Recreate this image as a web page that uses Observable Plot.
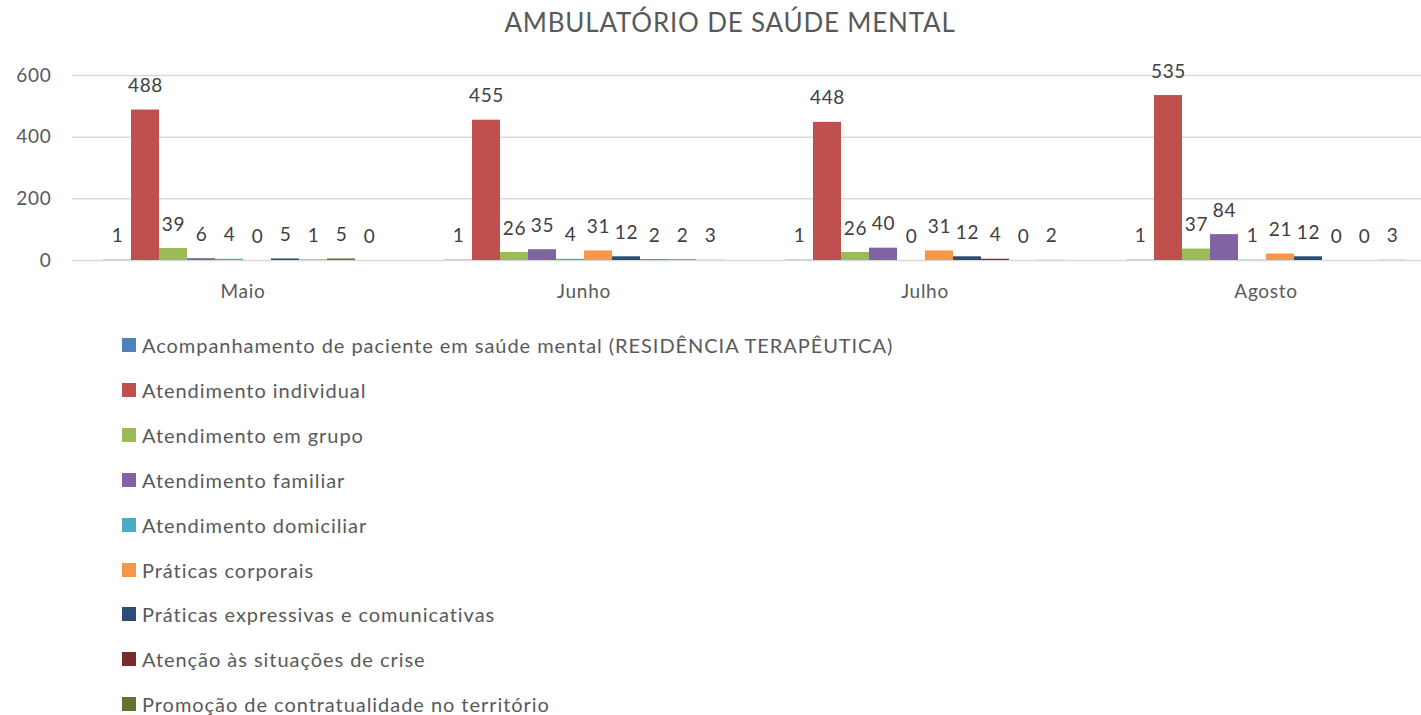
<!DOCTYPE html>
<html>
<head>
<meta charset="utf-8">
<script src="https://cdn.jsdelivr.net/npm/d3@7"></script>
<script src="https://cdn.jsdelivr.net/npm/@observablehq/plot@0.6"></script>
<style>
  html, body { margin: 0; padding: 0; background: #fff; }
  body { width: 1421px; height: 715px; overflow: hidden; position: relative; font-family: Lato, "Open Sans", sans-serif; color: #595959; }
  #title { position: absolute; left: 0; width: 1460px; top: 6px; text-align: center; font-size: 26px; line-height: 32px; letter-spacing: 0.8px; color: #595959; }
  #chart { position: absolute; left: 0; top: 45px; }
  #chart svg text { letter-spacing: 0.7px; }
  #legend { position: absolute; left: 122px; top: 0; }
  .item { position: absolute; left: 0; white-space: nowrap; font-size: 20px; line-height: 24px; letter-spacing: 0.95px; color: #595959; }
  .sw { position: absolute; left: 0; top: 5px; width: 14px; height: 14px; }
  .lbl { position: absolute; left: 20px; top: 0; }
</style>
</head>
<body>
<div id="title">AMBULATÓRIO DE SAÚDE MENTAL</div>
<div id="chart"></div>
<div id="legend"></div>
<script>
const months = ["Maio", "Junho", "Julho", "Agosto"];
const series = [
  "Acompanhamento de paciente em saúde mental (RESIDÊNCIA TERAPÊUTICA)",
  "Atendimento individual",
  "Atendimento em grupo",
  "Atendimento familiar",
  "Atendimento domiciliar",
  "Práticas corporais",
  "Práticas expressivas e comunicativas",
  "Atenção às situações de crise",
  "Promoção de contratualidade no território",
  "Série 10"
];
const colors = ["#4F81BD", "#C0504D", "#9BBB59", "#8064A2", "#4BACC6", "#F79646", "#2C4D75", "#772C2A", "#5F7530", "#DCDCDC"];
// values per series, in month order
const acompanhamento   = [1, 1, 1, 1];
const individual       = [488, 455, 448, 535];
const grupo            = [39, 26, 26, 37];
const familiar         = [6, 35, 40, 84];
const domiciliar       = [4, 4, 0, 1];
const corporais        = [0, 31, 31, 21];
const expressivas      = [5, 12, 12, 12];
const crise            = [1, 2, 4, 0];
const contratualidade  = [5, 2, 0, 0];
const serie10          = [0, 3, 2, 3];
const yTicks = [0, 200, 400, 600];

const allValues = [acompanhamento, individual, grupo, familiar, domiciliar, corporais, expressivas, crise, contratualidade, serie10];
const data = [];
months.forEach((m, mi) => {
  series.forEach((s, si) => {
    data.push({month: m, series: s, value: allValues[si][mi]});
  });
});

const chart = Plot.plot({
  width: 1437,
  height: 270,
  marginTop: 30,
  marginBottom: 55,
  marginLeft: 70,
  marginRight: 0,
  style: {fontFamily: "Lato, 'Open Sans', sans-serif", fontSize: "19px", color: "#595959", background: "transparent", maxWidth: "none"},
  fx: {domain: months, padding: 0, paddingOuter: 0, axis: "bottom", tickSize: 0, tickPadding: 24, label: null},
  x: {domain: series, paddingInner: 0, paddingOuter: 0.945, axis: null},
  y: {domain: [0, 600], ticks: yTicks, tickSize: 0, tickPadding: 21, label: null},
  color: {domain: series, range: colors},
  marks: [
    Plot.ruleY(yTicks, {stroke: "#d9d9d9", strokeWidth: 1.5}),
    Plot.barY(data, {fx: "month", x: "series", y: "value", fill: "series"}),
    Plot.text(data, {fx: "month", x: "series", y: "value", text: d => String(d.value), dy: -24, fill: "#404040", fontSize: 19})
  ]
});
document.getElementById("chart").appendChild(chart);

const legend = document.getElementById("legend");
series.slice(0, 9).forEach((s, i) => {
  const item = document.createElement("div");
  item.className = "item";
  item.style.top = (345 + 44.9 * i - 12) + "px";
  const sw = document.createElement("div");
  sw.className = "sw";
  sw.style.background = colors[i];
  const lbl = document.createElement("span");
  lbl.className = "lbl";
  lbl.textContent = s;
  item.appendChild(sw);
  item.appendChild(lbl);
  legend.appendChild(item);
});
</script>
</body>
</html>
